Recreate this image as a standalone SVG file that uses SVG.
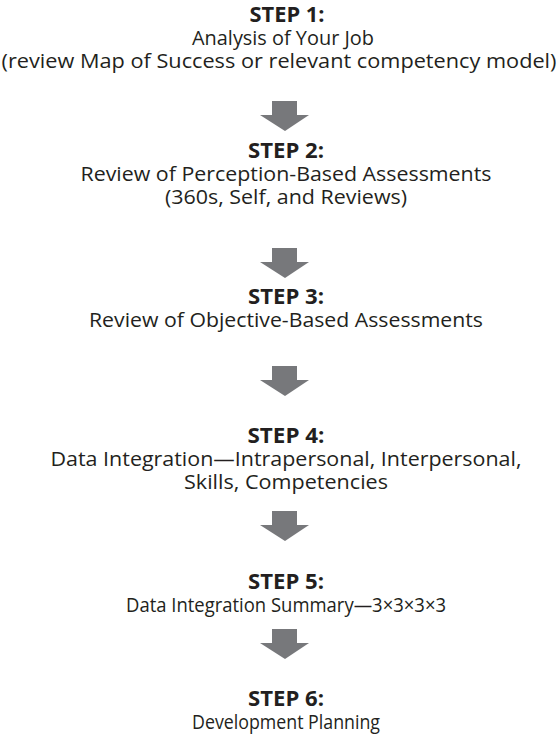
<svg xmlns="http://www.w3.org/2000/svg" width="559" height="734" viewBox="0 0 559 734">
  <style>
    .t { font-family: "Open Sans", "Noto Sans", "Liberation Sans", sans-serif; font-size: 20.5px; fill: #231f20; text-anchor: middle; }
    .h { font-weight: bold; }
    .arrow { fill: #77787b; }
  </style>
  <defs>
    <!-- block arrow pointing down, origin at top centre -->
    <path id="down" class="arrow" d="M-13,0 H12 V14 H24 L0,30 L-25,14 H-13 Z"/>
  </defs>
  <rect width="559" height="734" fill="#ffffff"/>

  <g id="step1">
    <text class="t h" x="287" y="22" textLength="75" lengthAdjust="spacingAndGlyphs">STEP 1:</text>
    <text class="t" x="283" y="45" textLength="182" lengthAdjust="spacingAndGlyphs">Analysis of Your Job</text>
    <text class="t" x="279" y="68" textLength="555" lengthAdjust="spacingAndGlyphs">(review Map of Success or relevant competency model)</text>
  </g>
  <g id="step2">
    <text class="t h" x="286" y="158" textLength="76" lengthAdjust="spacingAndGlyphs">STEP 2:</text>
    <text class="t" x="286" y="181" textLength="411" lengthAdjust="spacingAndGlyphs">Review of Perception-Based Assessments</text>
    <text class="t" x="286" y="204" textLength="242" lengthAdjust="spacingAndGlyphs">(360s, Self, and Reviews)</text>
  </g>
  <g id="step3">
    <text class="t h" x="286" y="304" textLength="76" lengthAdjust="spacingAndGlyphs">STEP 3:</text>
    <text class="t" x="286" y="327" textLength="394" lengthAdjust="spacingAndGlyphs">Review of Objective-Based Assessments</text>
  </g>
  <g id="step4">
    <text class="t h" x="286" y="443" textLength="77" lengthAdjust="spacingAndGlyphs">STEP 4:</text>
    <text class="t" x="286" y="466" textLength="471" lengthAdjust="spacingAndGlyphs">Data Integration—Intrapersonal, Interpersonal,</text>
    <text class="t" x="286" y="489" textLength="204" lengthAdjust="spacingAndGlyphs">Skills, Competencies</text>
  </g>
  <g id="step5">
    <text class="t h" x="286" y="589" textLength="76" lengthAdjust="spacingAndGlyphs">STEP 5:</text>
    <text class="t" x="286" y="612" textLength="320" lengthAdjust="spacingAndGlyphs">Data Integration Summary—3×3×3×3</text>
  </g>
  <g id="step6">
    <text class="t h" x="286" y="706" textLength="76" lengthAdjust="spacingAndGlyphs">STEP 6:</text>
    <text class="t" x="286" y="729" textLength="188" lengthAdjust="spacingAndGlyphs">Development Planning</text>
  </g>

  <!-- block arrows between steps -->
  <g id="connectors">
    <use href="#down" x="285" y="101"/>
    <use href="#down" x="285" y="248"/>
    <use href="#down" x="285" y="366"/>
    <use href="#down" x="285" y="511"/>
    <use href="#down" x="285" y="629"/>
  </g>
</svg>
